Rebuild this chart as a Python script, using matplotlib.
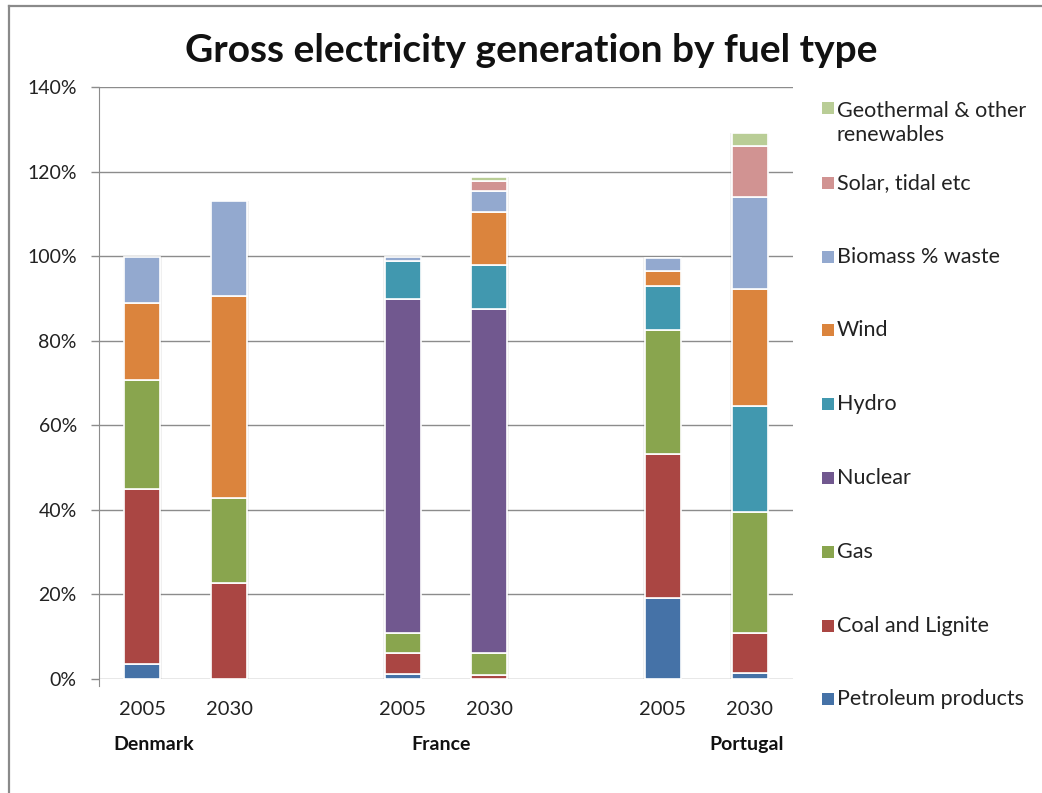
import matplotlib
matplotlib.use("Agg")
import matplotlib.pyplot as plt
from matplotlib.patches import Rectangle
from matplotlib.lines import Line2D
import numpy as np

plt.rcParams['font.family'] = ['Lato', 'DejaVu Sans']

# bars: Denmark 2005/2030, France 2005/2030, Portugal 2005/2030
slots = [0, 1, 3, 4, 6, 7]
years = ["2005", "2030", "2005", "2030", "2005", "2030"]
countries = ["Denmark", "France", "Portugal"]

series_names = ["Petroleum products", "Coal and Lignite", "Gas", "Nuclear", "Hydro",
                "Wind", "Biomass % waste", "Solar, tidal etc", "Geothermal & other\nrenewables"]
petroleum = [3.5, 0, 1.3, 0, 19.2, 1.4]
coal = [41.5, 22.8, 4.9, 1.0, 34.0, 9.5]
gas = [25.6, 20.1, 4.6, 5.1, 29.4, 28.6]
nuclear = [0, 0, 79.0, 81.5, 0, 0]
hydro = [0, 0, 9.0, 10.4, 10.3, 25.0]
wind = [18.4, 47.7, 0, 12.4, 3.5, 27.8]
biomass = [10.9, 22.4, 0.9, 5.1, 3.1, 21.6]
solar = [0, 0, 0, 2.3, 0, 12.2]
geothermal = [0, 0, 0, 1.0, 0, 3.1]

colors = ["#4572A7", "#AA4643", "#89A54E", "#71588F", "#4198AF",
          "#DB843D", "#93A9CF", "#D19392", "#B9CD96"]

W, H = 1042, 793
fig = plt.figure(figsize=(W / 100, H / 100), dpi=100)
fig.patch.set_facecolor("white")

def px(x, y):
    return (x / W, 1 - y / H)

ax = fig.add_axes([99 / W, 1 - 679 / H, (793 - 99) / W, (679 - 87) / H])

data = [petroleum, coal, gas, nuclear, hydro, wind, biomass, solar, geothermal]
bar_w = 0.415
bottom = np.zeros(len(slots))
totals = np.sum(np.array(data), axis=0)

# faint shadow round each stack
ax.bar(slots, totals + 0.8, width=bar_w + 0.035, bottom=-0.8,
       color="#000000", alpha=0.06, zorder=2, linewidth=0)

for vals, col in zip(data, colors):
    vals = np.array(vals, dtype=float)
    idx = vals > 0
    ax.bar(np.array(slots)[idx], vals[idx], width=bar_w, bottom=bottom[idx],
           color=col, edgecolor="white", linewidth=1.2, zorder=3)
    bottom += vals

ax.set_xlim(-0.5, 7.5)
ax.set_ylim(0, 140)
ax.set_yticks(range(0, 141, 20))
ax.set_yticklabels([f"{v}%" for v in range(0, 141, 20)], fontsize=14, color="#222222")
ax.yaxis.grid(True, color="#8c8c8c", linewidth=1)
ax.set_axisbelow(True)
ax.tick_params(axis="y", length=6, width=1, color="#8c8c8c", pad=10)
ax.set_xticks([])
for s in ["top", "right", "bottom"]:
    ax.spines[s].set_visible(False)
ax.spines["left"].set_color("#8c8c8c")
ax.spines["left"].set_bounds(-1.7, 140)

for s, y in zip(slots, years):
    ax.text(s, -7.2, y, ha="center", va="center", fontsize=14.5, color="#222222")
for xc, name in zip([0.13, 3.44, 6.97], countries):
    ax.text(xc, -15.5, name, ha="center", va="center", fontsize=14,
            fontweight="bold", color="#111111")

fig.text(*px(531, 50), "Gross electricity generation by fuel type", ha="center",
         va="center", fontsize=28, fontweight="bold", color="#111111")

# legend, top entry first
leg_y = [699, 626, 552, 478, 404, 330, 257, 183, 108]
for name, col, y in zip(series_names, colors, leg_y):
    x0, y0 = px(822, y + 6)
    fig.patches.append(Rectangle((x0, y0), 12 / W, 12 / H, transform=fig.transFigure,
                                 facecolor=col, edgecolor="none"))
    n_extra = name.count("\n")
    fig.text(*px(837, y + 6 + 27 * n_extra), name, ha="left", va="baseline",
             fontsize=15.5, color="#222222", linespacing=1.25)

# outer frame
fig.add_artist(Line2D([9 / W, 9 / W], [0, 1 - 6 / H], transform=fig.transFigure,
                      color="#8a8a8a", linewidth=1.6))
fig.add_artist(Line2D([9 / W, 1], [1 - 6 / H, 1 - 6 / H], transform=fig.transFigure,
                      color="#8a8a8a", linewidth=1.6))

fig.savefig("out.png", dpi=100)
